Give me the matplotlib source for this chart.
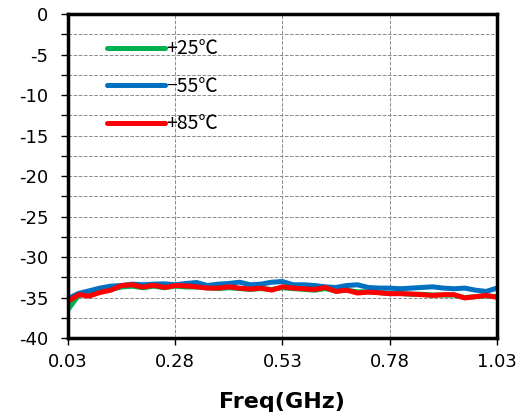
import matplotlib
matplotlib.use('Agg')
import matplotlib.pyplot as plt
import numpy as np

plt.rcParams['axes.unicode_minus'] = False

# Frequency points (GHz)
freq = [0.03 + 0.025 * k for k in range(41)]

# S-parameter (dB) at three temperatures
s_p25 = [-36.5, -34.7, -34.6, -34.2, -34.0, -33.7, -33.6, -33.8, -33.6, -33.8,
         -33.6, -33.7, -33.7, -33.8, -33.9, -33.8, -33.9, -34.0, -33.9, -34.0,
         -33.8, -33.9, -34.0, -34.1, -33.9, -34.2, -34.1, -34.3, -34.3, -34.4,
         -34.5, -34.5, -34.6, -34.6, -34.7, -34.7, -34.7, -35.0, -34.9, -34.8,
         -34.9]
s_m55 = [-35.14, -34.49, -34.17, -33.84, -33.6, -33.52, -33.35, -33.43, -33.35, -33.31,
         -33.43, -33.27, -33.15, -33.52, -33.35, -33.27, -33.11, -33.43, -33.35, -33.11,
         -33.03, -33.43, -33.43, -33.52, -33.68, -33.76, -33.52, -33.43, -33.76, -33.84,
         -33.84, -33.92, -33.84, -33.76, -33.68, -33.84, -33.92, -33.84, -34.09, -34.25,
         -33.84]
s_p85 = [-35.47, -34.65, -34.82, -34.37, -34.09, -33.52, -33.43, -33.72, -33.48, -33.76,
         -33.52, -33.56, -33.68, -33.84, -33.84, -33.68, -33.84, -33.96, -33.84, -34.09,
         -33.68, -33.84, -33.92, -34.0, -33.76, -34.25, -34.09, -34.45, -34.33, -34.41,
         -34.53, -34.53, -34.57, -34.65, -34.74, -34.65, -34.65, -35.06, -34.9, -34.74,
         -34.98]

xticks = [0.03, 0.28, 0.53, 0.78, 1.03]
xticklabels = ['0.03', '0.28', '0.53', '0.78', '1.03']

fig = plt.figure(figsize=(5.17, 4.18), dpi=100)
ax = fig.add_axes([0.1315, 0.1914, 0.8295, 0.775])

ax.plot(freq, s_p25, color='#00b050', lw=3.6, label='+25℃', solid_capstyle='round')
ax.plot(freq, s_m55, color='#0070c0', lw=3.6, label='\u221255℃', solid_capstyle='round')
ax.plot(freq, s_p85, color='#ff0000', lw=3.6, label='+85℃', solid_capstyle='round')

ax.set_xlim(0.03, 1.03)
ax.set_ylim(-40, 0)
ax.set_xticks(xticks)
ax.set_xticklabels(xticklabels)
ax.set_yticks(np.arange(-40, 1, 5))
ax.set_yticks(np.arange(-37.5, 0, 5), minor=True)
ax.tick_params(axis='both', which='both', direction='out', length=5, width=1,
               labelsize=13, colors='black')
ax.tick_params(axis='x', pad=6)
ax.tick_params(axis='y', pad=9)
ax.grid(True, which='major', axis='x', ls='--', color='#8c8c8c', lw=0.7)
ax.grid(True, which='both', axis='y', ls='--', color='#8c8c8c', lw=0.7)
for s in ax.spines.values():
    s.set_linewidth(2.5)

ax.set_xlabel('Freq(GHz)', fontsize=16, fontweight='bold', labelpad=15)

leg = ax.legend(loc='upper left', bbox_to_anchor=(0.09, 0.925), frameon=False,
                handlelength=3.0, handletextpad=0.05, labelspacing=0.85,
                borderpad=0, borderaxespad=0,
                prop={'family': ['Noto Sans CJK JP', 'DejaVu Sans'], 'size': 14})

fig.savefig('out.png', dpi=100)
